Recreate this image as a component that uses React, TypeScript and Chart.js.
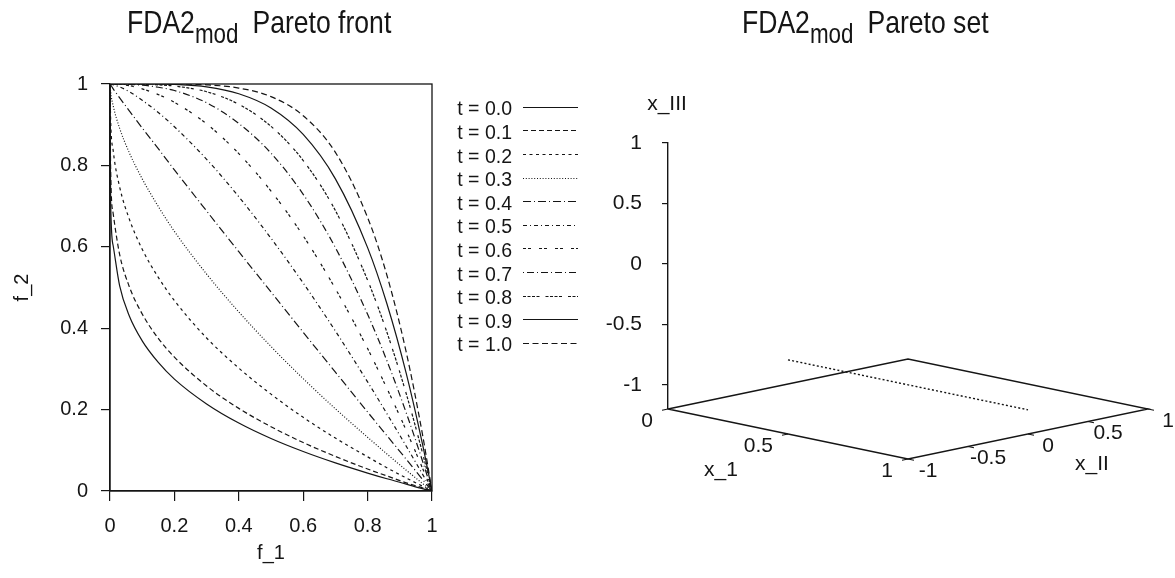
import React, { useEffect, useRef } from 'react';
import { Chart, registerables } from 'chart.js';

Chart.register(...registerables);

// ---------- Left panel data: Pareto front f2(f1) for each t ----------
const F1 = [0, 0.002, 0.01, 0.03, 0.06, 0.1, 0.15, 0.2, 0.3, 0.4, 0.5, 0.6, 0.7, 0.8, 0.86, 0.92, 0.97, 1];
const T_LABELS = ['t = 0.0', 't = 0.1', 't = 0.2', 't = 0.3', 't = 0.4', 't = 0.5', 't = 0.6', 't = 0.7', 't = 0.8', 't = 0.9', 't = 1.0'];
const F2_T00 = [1, 0.711, 0.602, 0.504, 0.430, 0.369, 0.316, 0.275, 0.214, 0.167, 0.129, 0.097, 0.069, 0.044, 0.030, 0.017, 0.006, 0];
const F2_T01 = [1, 0.786, 0.681, 0.581, 0.502, 0.435, 0.375, 0.329, 0.258, 0.203, 0.158, 0.119, 0.085, 0.054, 0.037, 0.020, 0.008, 0];
const F2_T02 = [1, 0.912, 0.836, 0.747, 0.668, 0.594, 0.525, 0.468, 0.376, 0.302, 0.238, 0.181, 0.130, 0.084, 0.057, 0.032, 0.012, 0];
const F2_T03 = [1, 0.980, 0.946, 0.891, 0.831, 0.767, 0.699, 0.638, 0.533, 0.440, 0.355, 0.276, 0.202, 0.132, 0.091, 0.051, 0.019, 0];
const F2_T04 = [1, 0.998, 0.988, 0.966, 0.934, 0.892, 0.841, 0.789, 0.688, 0.588, 0.489, 0.390, 0.292, 0.194, 0.136, 0.078, 0.029, 0];
const F2_T05 = [1, 1, 0.998, 0.993, 0.981, 0.960, 0.930, 0.895, 0.815, 0.723, 0.621, 0.511, 0.393, 0.268, 0.190, 0.110, 0.042, 0];
const F2_T06 = [1, 1, 1, 0.999, 0.996, 0.988, 0.974, 0.955, 0.902, 0.829, 0.737, 0.627, 0.497, 0.350, 0.252, 0.149, 0.057, 0];
const F2_T07 = [1, 1, 1, 1, 0.999, 0.997, 0.992, 0.984, 0.954, 0.903, 0.830, 0.729, 0.598, 0.434, 0.320, 0.192, 0.075, 0];
const F2_T08 = [1, 1, 1, 1, 1, 0.999, 0.998, 0.995, 0.981, 0.950, 0.896, 0.812, 0.689, 0.518, 0.390, 0.239, 0.095, 0];
const F2_T09 = [1, 1, 1, 1, 1, 1, 1, 0.999, 0.993, 0.976, 0.941, 0.876, 0.767, 0.598, 0.460, 0.289, 0.117, 0];
const F2_T10 = [1, 1, 1, 1, 1, 1, 1, 1, 0.998, 0.990, 0.969, 0.922, 0.832, 0.672, 0.530, 0.341, 0.141, 0];
const F_TICKS = [0, 0.2, 0.4, 0.6, 0.8, 1];

// ---------- Right panel data: Pareto set in (x_1, x_II, x_III) ----------
const X1_RANGE = [0, 1];
const XII_RANGE = [-1, 1];
const XIII_RANGE = [-1, 1];
const X1_TICKS = [0, 0.5, 1];
const XII_TICKS = [-1, -0.5, 0, 0.5, 1];
const XIII_TICKS = [-1, -0.5, 0, 0.5, 1];
const PS_X1 = [0, 1];
const PS_XII = [0, 0];
const PS_XIII = [-1, -1];

// ---------- styles ----------
const FONT = "'Liberation Sans', Arial, Helvetica, sans-serif";
const INK = '#151515';
const DASHES: number[][] = [
  [], [5, 3], [3, 3.5], [1, 1.8], [8, 3, 1, 3], [4, 3, 1, 3],
  [3, 2, 3, 8], [1, 3, 7, 3], [3, 1.5, 3, 1.5, 3, 1.5, 3, 6], [], [6, 3.5],
];
const BASE_Z = XIII_RANGE[0] - 0.1 * (XIII_RANGE[1] - XIII_RANGE[0]); // ticslevel
const VIEW = { h1: 0.5, h2: 0.5, tilt: 0.4136, tick: 0.025 };

function project(x1: number, x2: number, z: number) {
  const n1 = (x1 - X1_RANGE[0]) / (X1_RANGE[1] - X1_RANGE[0]);
  const n2 = (x2 - XII_RANGE[0]) / (XII_RANGE[1] - XII_RANGE[0]);
  return { x: VIEW.h1 * n1 + VIEW.h2 * n2, y: z - VIEW.tilt * n1 + VIEW.tilt * n2 };
}

const fmt = (v: any) => String(Number(v));

function drawTitle(ctx: CanvasRenderingContext2D, x: number, baseline: number, main: string, sub: string, rest: string) {
  const sx = 0.83;
  let cx = x;
  const piece = (txt: string, size: number, dy: number) => {
    ctx.font = `${size}px ${FONT}`;
    const w = ctx.measureText(txt).width * sx;
    ctx.save();
    ctx.translate(cx, baseline + dy);
    ctx.scale(sx, 1);
    ctx.fillText(txt, 0, 0);
    ctx.restore();
    cx += w;
  };
  ctx.save();
  ctx.fillStyle = INK;
  ctx.textAlign = 'left';
  ctx.textBaseline = 'alphabetic';
  piece(main, 32, 0);
  piece(sub, 27, 10);
  cx += 14;
  piece(rest, 32, 0);
  ctx.restore();
}

const leftDecor = {
  id: 'leftDecor',
  afterDraw(chart: any) {
    const { ctx, chartArea } = chart;
    ctx.save();
    ctx.strokeStyle = INK;
    ctx.lineWidth = 1.3;
    ctx.strokeRect(chartArea.left, chartArea.top, chartArea.right - chartArea.left, chartArea.bottom - chartArea.top);
    // legend (gnuplot style: text then sample)
    ctx.font = `19.5px ${FONT}`;
    ctx.fillStyle = INK;
    ctx.textAlign = 'right';
    ctx.textBaseline = 'alphabetic';
    chart.data.datasets.forEach((ds: any, i: number) => {
      const yc = 108.3 + 23.6 * i;
      ctx.fillText(ds.label, 512, yc + 7);
      ctx.beginPath();
      ctx.setLineDash(ds.borderDash || []);
      ctx.lineWidth = 1.2;
      ctx.moveTo(523, Math.round(yc - 1.5) + 0.5);
      ctx.lineTo(578, Math.round(yc - 1.5) + 0.5);
      ctx.stroke();
    });
    ctx.setLineDash([]);
    ctx.restore();
    drawTitle(ctx, 127, 33, 'FDA2', 'mod', 'Pareto front');
  },
};

const rightDecor = {
  id: 'rightDecor',
  afterDraw(chart: any) {
    const { ctx } = chart;
    const xs = chart.scales.x;
    const ys = chart.scales.y;
    const px = (p: { x: number; y: number }) => ({ x: xs.getPixelForValue(p.x), y: ys.getPixelForValue(p.y) });
    ctx.save();
    ctx.fillStyle = INK;
    ctx.font = `21px ${FONT}`;
    ctx.textBaseline = 'alphabetic';
    ctx.textAlign = 'right';
    X1_TICKS.forEach((v) => {
      const p = px(project(v, XII_RANGE[0], BASE_Z));
      ctx.fillText(fmt(v), p.x - 15, p.y + 17.5);
    });
    ctx.textAlign = 'center';
    XII_TICKS.forEach((v) => {
      const p = px(project(X1_RANGE[1], v, BASE_Z));
      ctx.fillText(fmt(v), p.x + 20, p.y + 17.5);
    });
    const m1 = px(project((X1_RANGE[0] + X1_RANGE[1]) / 2, XII_RANGE[0], BASE_Z));
    ctx.fillText('x_1', m1.x - 67, m1.y + 42);
    const m2 = px(project(X1_RANGE[1], (XII_RANGE[0] + XII_RANGE[1]) / 2, BASE_Z));
    ctx.fillText('x_II', m2.x + 64, m2.y + 36);
    const top = { x: chart.chartArea.left, y: ys.getPixelForValue(XIII_RANGE[1]) };
    ctx.fillText('x_III', top.x - 1, top.y - 33);
    ctx.restore();
    drawTitle(ctx, 142, 33, 'FDA2', 'mod', 'Pareto set');
  },
};

const SERIES = [F2_T00, F2_T01, F2_T02, F2_T03, F2_T04, F2_T05, F2_T06, F2_T07, F2_T08, F2_T09, F2_T10];

function leftConfig(): any {
  return {
    type: 'scatter',
    data: {
      datasets: SERIES.map((ys, i) => ({
        label: T_LABELS[i],
        data: F1.map((x, j) => ({ x, y: ys[j] })),
        showLine: true,
        pointRadius: 0,
        borderColor: INK,
        borderWidth: 1.2,
        borderDash: DASHES[i],
        cubicInterpolationMode: 'monotone',
        fill: false,
      })),
    },
    options: {
      responsive: false,
      animation: false,
      events: [],
      layout: { padding: { left: 0, top: 84, right: 168, bottom: 0 } },
      plugins: { legend: { display: false }, tooltip: { enabled: false }, title: { display: false } },
      scales: {
        x: {
          type: 'linear', min: 0, max: 1,
          afterBuildTicks: (s: any) => { s.ticks = F_TICKS.map((v) => ({ value: v })); },
          ticks: { color: INK, font: { family: FONT, size: 20 }, padding: 13, maxRotation: 0, callback: fmt },
          grid: { drawOnChartArea: false, drawTicks: true, tickLength: 10, color: INK, lineWidth: 1.2 },
          border: { display: true, color: INK, width: 1.3 },
          title: { display: true, text: 'f_1', color: INK, font: { family: FONT, size: 20 }, padding: { top: 0, bottom: 13 } },
          afterFit: (s: any) => { s.height = 87; },
        },
        y: {
          type: 'linear', min: 0, max: 1,
          afterBuildTicks: (s: any) => { s.ticks = F_TICKS.map((v) => ({ value: v })); },
          ticks: { color: INK, font: { family: FONT, size: 20 }, padding: 13, callback: fmt },
          grid: { drawOnChartArea: false, drawTicks: true, tickLength: 9, color: INK, lineWidth: 1.2 },
          border: { display: true, color: INK, width: 1.3 },
          title: { display: true, text: 'f_2', color: INK, font: { family: FONT, size: 20 }, padding: { top: 10, bottom: 0 } },
          afterFit: (s: any) => { s.width = 110; },
        },
      },
    },
    plugins: [leftDecor],
  };
}

function rightConfig(): any {
  const L = project(X1_RANGE[0], XII_RANGE[0], BASE_Z);
  const T = project(X1_RANGE[0], XII_RANGE[1], BASE_Z);
  const R = project(X1_RANGE[1], XII_RANGE[1], BASE_Z);
  const B = project(X1_RANGE[1], XII_RANGE[0], BASE_Z);
  const d2 = VIEW.tick * (XII_RANGE[1] - XII_RANGE[0]);
  const d1 = VIEW.tick * (X1_RANGE[1] - X1_RANGE[0]);
  const tick1: any[] = [];
  X1_TICKS.forEach((v) => {
    tick1.push(project(v, XII_RANGE[0], BASE_Z), project(v, XII_RANGE[0] - d2, BASE_Z), { x: null, y: null });
  });
  const tick2: any[] = [];
  XII_TICKS.forEach((v) => {
    tick2.push(project(X1_RANGE[1], v, BASE_Z), project(X1_RANGE[1] + d1, v, BASE_Z), { x: null, y: null });
  });
  const ps = PS_X1.map((x1, i) => project(x1, PS_XII[i], PS_XIII[i]));
  const common = { showLine: true, pointRadius: 0, borderColor: INK, fill: false, clip: false, spanGaps: false };
  return {
    type: 'scatter',
    data: {
      datasets: [
        { ...common, label: 'base', data: [L, T, R, B, L], borderWidth: 1.4 },
        { ...common, label: 'x1 tics', data: tick1, borderWidth: 1.2 },
        { ...common, label: 'xII tics', data: tick2, borderWidth: 1.2 },
        { ...common, label: 'Pareto set', data: ps, borderWidth: 1.4, borderDash: [2, 2.2] },
      ],
    },
    options: {
      responsive: false,
      animation: false,
      events: [],
      layout: { padding: { left: 0, top: 143, right: 27, bottom: 169 } },
      plugins: { legend: { display: false }, tooltip: { enabled: false }, title: { display: false } },
      scales: {
        x: { type: 'linear', min: 0, max: 1, display: false },
        y: {
          type: 'linear', min: BASE_Z, max: XIII_RANGE[1],
          afterBuildTicks: (s: any) => { s.ticks = XIII_TICKS.map((v) => ({ value: v })); },
          ticks: { color: INK, font: { family: FONT, size: 21 }, padding: 20, callback: fmt },
          grid: { drawOnChartArea: false, drawTicks: true, tickLength: 6, color: INK, lineWidth: 1.2 },
          border: { display: true, color: INK, width: 1.4 },
          afterFit: (s: any) => { s.width = 68; },
        },
      },
    },
    plugins: [rightDecor],
  };
}

export default function App() {
  const leftRef = useRef<HTMLCanvasElement>(null);
  const rightRef = useRef<HTMLCanvasElement>(null);
  useEffect(() => {
    const left = new Chart(leftRef.current as HTMLCanvasElement, leftConfig());
    const right = new Chart(rightRef.current as HTMLCanvasElement, rightConfig());
    return () => {
      left.destroy();
      right.destroy();
    };
  }, []);
  return (
    <div style={{ position: 'absolute', left: 0, top: 0, width: 1175, height: 578, background: '#fff' }}>
      <canvas ref={leftRef} width={600} height={578} style={{ position: 'absolute', left: 0, top: 0 }} />
      <canvas ref={rightRef} width={575} height={578} style={{ position: 'absolute', left: 600, top: 0 }} />
    </div>
  );
}
